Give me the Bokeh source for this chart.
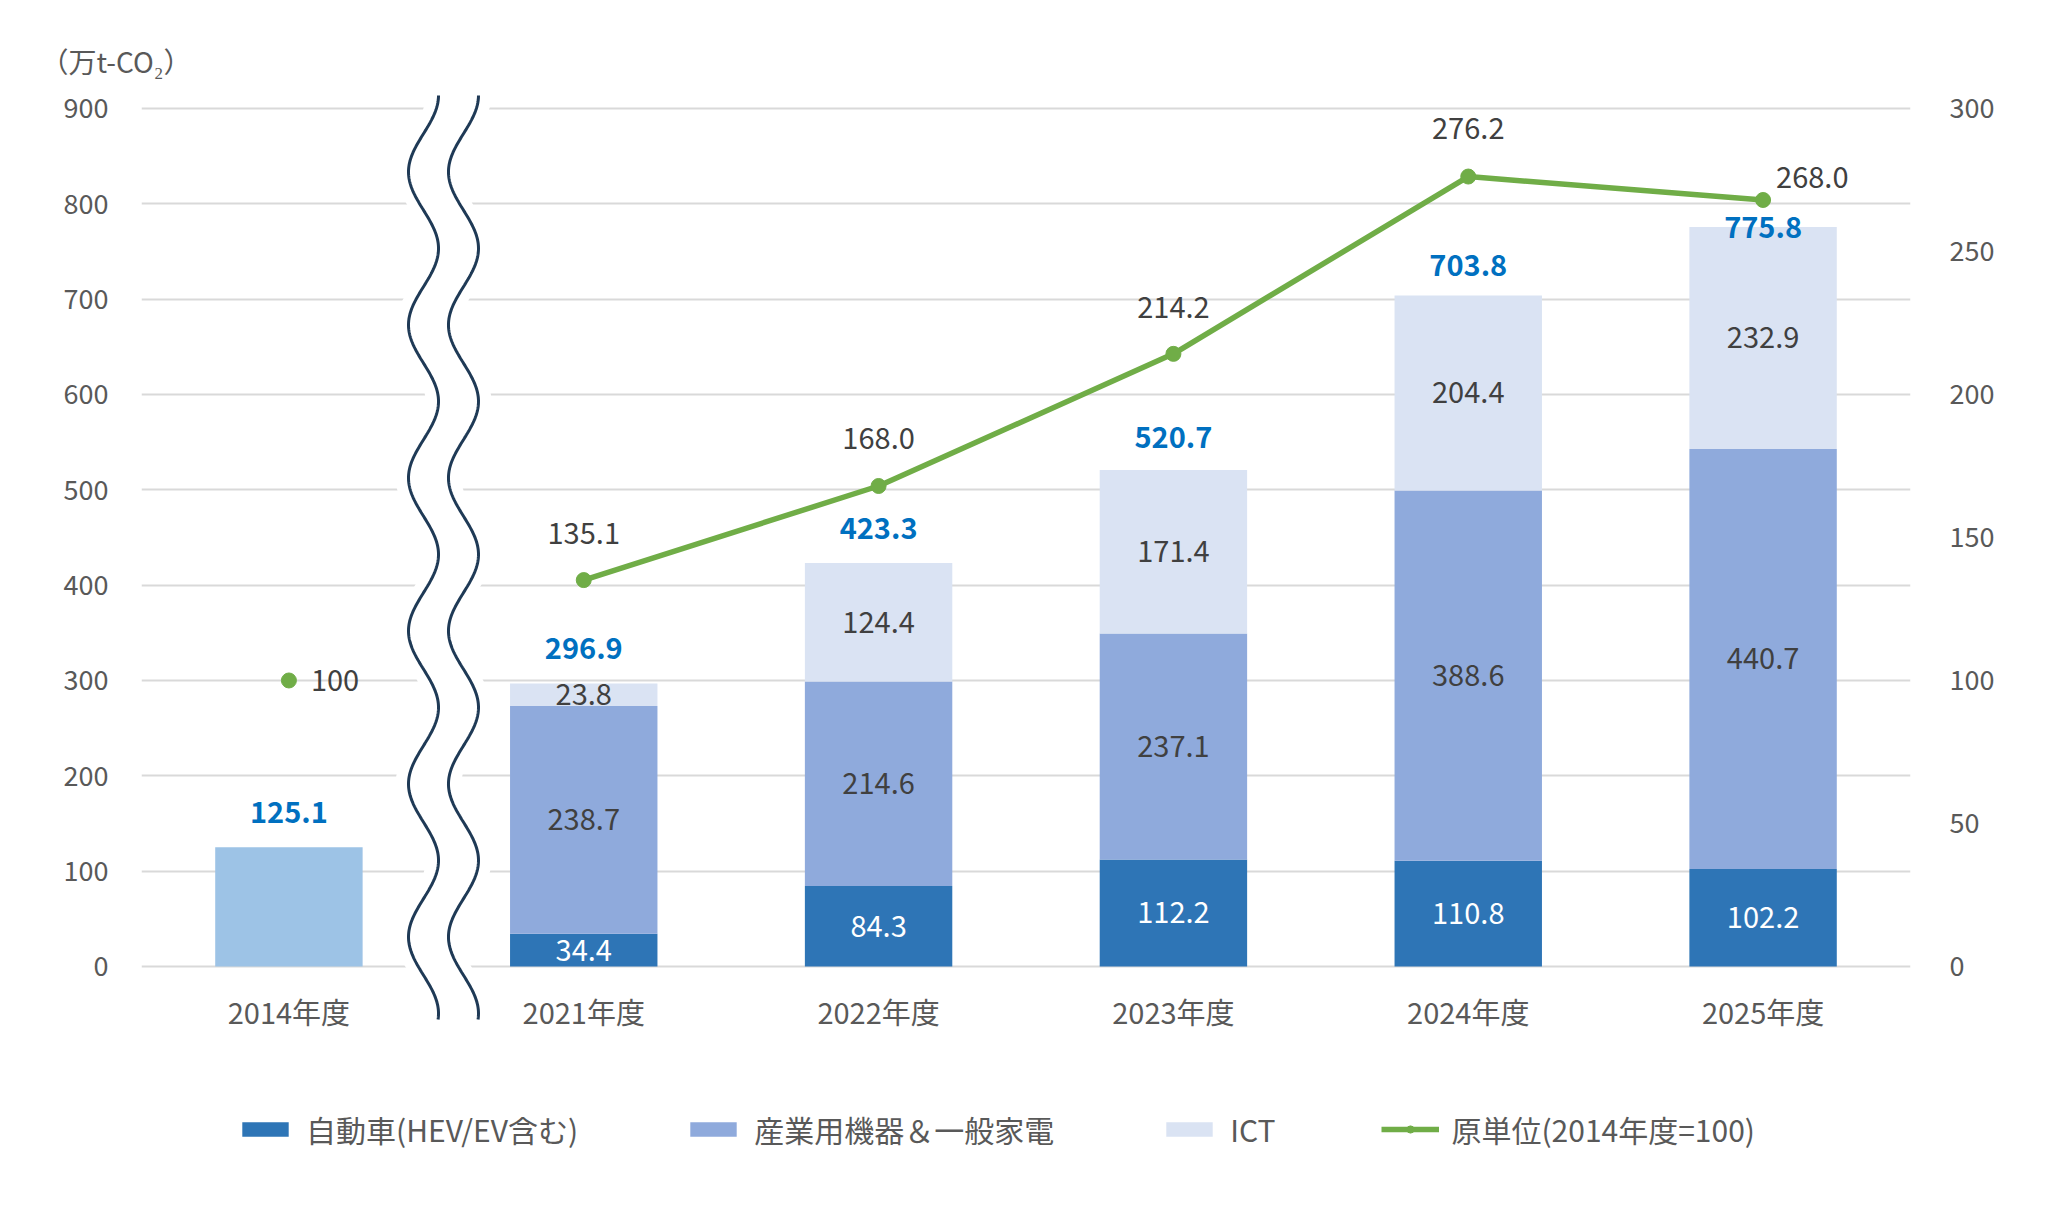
import numpy as np
from bokeh.plotting import figure
from bokeh.models import ColumnDataSource, FactorRange, Range1d, LinearAxis, FixedTicker
from bokeh.embed import file_html
from bokeh.resources import INLINE
from bokeh.core.properties import value

# ---------------- data ----------------
categories = ["2014年度", "2021年度", "2022年度", "2023年度", "2024年度", "2025年度"]
stack_years = ["2021年度", "2022年度", "2023年度", "2024年度", "2025年度"]
auto = [34.4, 84.3, 112.2, 110.8, 102.2]
industrial = [238.7, 214.6, 237.1, 388.6, 440.7]
ict = [23.8, 124.4, 171.4, 204.4, 232.9]
base_year = "2014年度"
base_total = 125.1
totals = [125.1, 296.9, 423.3, 520.7, 703.8, 775.8]
intensity = [100.0, 135.1, 168.0, 214.2, 276.2, 268.0]
left_ticks = [0, 100, 200, 300, 400, 500, 600, 700, 800, 900]
right_ticks = [0, 50, 100, 150, 200, 250, 300]
series_names = ["自動車(HEV/EV含む)", "産業用機器＆一般家電", "ICT"]
line_name = "原単位(2014年度=100)"
unit_label = "（万t-CO₂）"

# ---------------- style ----------------
FONT = "Noto Sans CJK JP"
C_AUTO, C_IND, C_ICT, C_BASE = "#2E75B6", "#8FAADC", "#DAE3F3", "#9DC3E6"
C_LINE = "#70AD47"
C_TOTAL = "#0070C0"
C_AXIS = "#595959"
C_VAL = "#404040"
C_WAVE = "#1F3A56"

Y0, Y1 = -224.5, 924.1

p = figure(width=2048, height=1207,
           x_range=FactorRange(factors=categories, range_padding=0),
           y_range=Range1d(Y0, Y1),
           x_axis_location=None,
           output_backend="svg", toolbar_location=None,
           min_border_left=141, min_border_right=138,
           min_border_top=85, min_border_bottom=27)
p.extra_y_ranges = {"idx": Range1d(Y0 / 3.0, Y1 / 3.0)}
p.outline_line_color = None
p.background_fill_color = "white"
p.border_fill_color = "white"

p.xgrid.visible = False
p.ygrid.ticker = FixedTicker(ticks=left_ticks)
p.ygrid.grid_line_color = "#D9D9D9"
p.ygrid.grid_line_width = 2

ya = p.yaxis[0]
ya.ticker = FixedTicker(ticks=left_ticks)
ra = LinearAxis(y_range_name="idx", ticker=FixedTicker(ticks=right_ticks))
p.add_layout(ra, "right")
for ax, st in [(ya, 27), (ra, 33)]:
    ax.axis_line_color = None
    ax.major_tick_line_color = None
    ax.minor_tick_line_color = None
    ax.major_label_standoff = st
    ax.major_label_text_font = FONT
    ax.major_label_text_font_size = "27px"
    ax.major_label_text_color = C_AXIS

# title (unit)
p.title.text = unit_label
p.title.align = "left"
p.title.offset = -101
p.title.text_font = FONT
p.title.text_font_size = "28px"
p.title.text_font_style = "normal"
p.title.text_color = C_AXIS

# ---------------- break waves ----------------
brk = 1.0243          # between 2014 and 2021 (synthetic x)
half_gap = 0.0678
amp = 0.0509
band = 0.112
wy = np.linspace(913.7, -55.6, 600)
period = 160.5
wx = amp * np.cos(2 * np.pi * (913.7 - wy) / period)
p.patch(np.concatenate([brk - band + wx, (brk + band + wx)[::-1]]),
        np.concatenate([wy, wy[::-1]]), fill_color="white", line_color=None)
p.line(brk - half_gap + wx, wy, line_color=C_WAVE, line_width=3)
p.line(brk + half_gap + wx, wy, line_color=C_WAVE, line_width=3)

# ---------------- bars ----------------
src = ColumnDataSource(dict(x=stack_years, auto=auto, industrial=industrial, ict=ict))
p.vbar_stack(["auto", "industrial", "ict"], x="x", width=0.5, source=src,
             fill_color=[C_AUTO, C_IND, C_ICT], line_color=None,
             legend_label=series_names)
p.vbar(x=[base_year], top=[base_total], width=0.5, fill_color=C_BASE, line_color=None)

# segment labels
auto_c = [a / 2 for a in auto]
ind_c = [a + i / 2 for a, i in zip(auto, industrial)]
ict_c = [a + i + c / 2 for a, i, c in zip(auto, industrial, ict)]
lab_kw = dict(text_font=value(FONT), text_font_size="29px", text_align="center",
              text_baseline="middle")
p.text(x=stack_years, y=auto_c, text=[f"{v:.1f}" for v in auto], text_color="white", **lab_kw)
p.text(x=stack_years, y=ind_c, text=[f"{v:.1f}" for v in industrial], text_color=C_VAL, **lab_kw)
p.text(x=stack_years, y=ict_c, text=[f"{v:.1f}" for v in ict], text_color=C_VAL, **lab_kw)

# totals
total_dy = [-35, -35, -35, -33, -31, 0]
p.text(x=categories, y=totals, text=[f"{v:.1f}" for v in totals], y_offset=total_dy,
       text_color=C_TOTAL, text_font_style="bold", **lab_kw)

# ---------------- intensity line ----------------
p.line(x=stack_years, y=intensity[1:], y_range_name="idx", line_color=C_LINE,
       line_width=5.5, legend_label=line_name)
p.scatter(x=categories, y=intensity, y_range_name="idx", size=15, fill_color=C_LINE,
          line_color=C_LINE, legend_label=line_name)
line_dx = [22, 0, 0, 0, 0, 13]
line_dy = [0, -47, -47, -46, -48, -22]
line_align = ["left", "center", "center", "center", "center", "left"]
lsrc = ColumnDataSource(dict(x=categories, y=intensity, t=[f"{v:.1f}" if v != 100 else "100" for v in intensity],
                             dx=line_dx, dy=line_dy, al=line_align))
p.text(x="x", y="y", text="t", x_offset="dx", y_offset="dy", text_align="al", source=lsrc,
       y_range_name="idx", text_color=C_VAL, text_font=value(FONT), text_font_size="29px",
       text_baseline="middle")

# ---------------- category labels ----------------
p.text(x=categories, y=[-46.2] * len(categories), text=categories, text_color=C_AXIS,
       text_font=value(FONT), text_font_size="29px", text_align="center", text_baseline="middle")

# ---------------- legend ----------------
lg = p.legend[0]
lg.orientation = "horizontal"
lg.location = (95, 29)
lg.label_text_font = FONT
lg.label_text_font_size = "30px"
lg.label_text_color = C_AXIS
lg.glyph_width = 58
lg.glyph_height = 18
lg.label_standoff = 12
lg.spacing = 106
lg.padding = 0
lg.margin = 0
lg.border_line_color = None
lg.background_fill_alpha = 0

open("out.html", "w").write(file_html(p, INLINE))
